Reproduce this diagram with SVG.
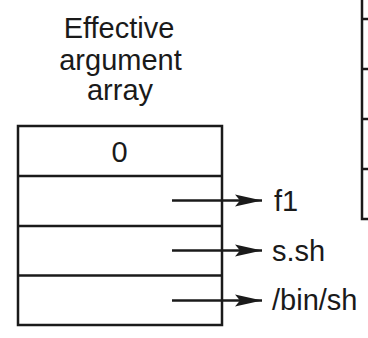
<svg xmlns="http://www.w3.org/2000/svg" width="368" height="338" viewBox="0 0 368 338">
<style>
.t{font-family:"Liberation Sans",Arial,sans-serif;font-size:29px;fill:#1a1a1a}
.c{text-anchor:middle}
.b{fill:none;stroke:#1a1a1a;stroke-width:2.5}
.a{stroke:#1a1a1a;stroke-width:2.5;fill:none}
</style>
<defs>
<marker id="ah" markerUnits="userSpaceOnUse" markerWidth="28" markerHeight="14" refX="27" refY="7" orient="auto">
<path d="M0,1 L27,7 L0,13 L5,7 Z" fill="#1a1a1a"/>
</marker>
</defs>
<rect width="368" height="338" fill="#ffffff"/>
<g id="title">
<text class="t c" x="119" y="37.5">Effective</text>
<text class="t c" x="120.5" y="70">argument</text>
<text class="t c" x="120" y="100">array</text>
</g>
<g id="effective-argument-array">
<rect class="b" x="18" y="126" width="204" height="199"/>
<line class="b" x1="18" y1="176" x2="222" y2="176"/>
<line class="b" x1="18" y1="226" x2="222" y2="226"/>
<line class="b" x1="18" y1="275.5" x2="222" y2="275.5"/>
<text class="t c" x="119.5" y="161.5">0</text>
</g>
<g id="right-array">
<polyline class="b" points="362,-2 362,219 370,219"/>
<line class="b" x1="362" y1="19" x2="370" y2="19"/>
<line class="b" x1="362" y1="69" x2="370" y2="69"/>
<line class="b" x1="362" y1="119" x2="370" y2="119"/>
<line class="b" x1="362" y1="169" x2="370" y2="169"/>
</g>
<g id="labels">
<text class="t" x="274" y="211">f1</text>
<text class="t" x="272" y="261">s.sh</text>
<text class="t" x="272" y="310">/bin/sh</text>
</g>
<g id="connectors">
<line class="a" x1="172" y1="200.5" x2="262" y2="200.5" marker-end="url(#ah)"/>
<line class="a" x1="172" y1="250.5" x2="262" y2="250.5" marker-end="url(#ah)"/>
<line class="a" x1="172" y1="300.5" x2="262" y2="300.5" marker-end="url(#ah)"/>
</g>
</svg>
